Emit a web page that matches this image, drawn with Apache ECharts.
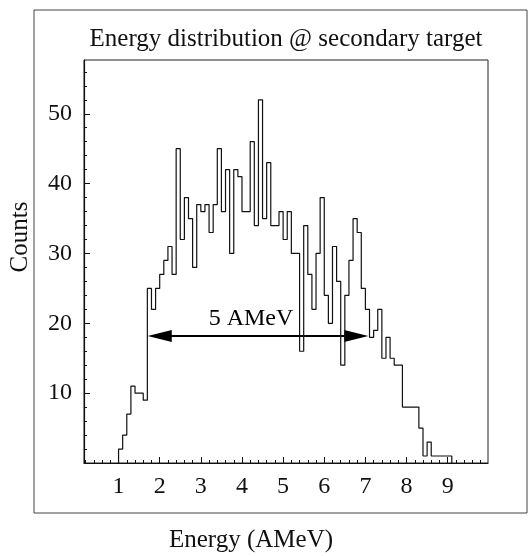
<!DOCTYPE html>
<html>
<head>
<meta charset="utf-8">
<script src="https://cdn.jsdelivr.net/npm/echarts@6/dist/echarts.min.js"></script>
<style>
  html, body { margin: 0; padding: 0; background: #fff; }
  #chart { width: 530px; height: 556px; }
</style>
</head>
<body>
<div id="chart"></div>
<script>
// Energy histogram at the secondary target, 0.1 AMeV bins starting at 1.0 AMeV
const binStart = 1.0;
const binWidth = 0.1;
const counts = [
  2, 4, 7, 11, 10, 10, 9, 25, 22, 25,
  27, 29, 31, 27, 45, 32, 38, 35, 28, 37,
  36, 37, 33, 37, 45, 36, 42, 30, 42, 41,
  36, 36, 46, 34, 52, 35, 43, 34, 34, 36,
  32, 36, 30, 30, 16, 34, 27, 22, 30, 38,
  24, 20, 31, 26, 14, 24, 29, 35, 33, 25,
  22, 18, 19, 22, 15, 18, 15, 14, 14, 8,
  8, 8, 8, 5, 1, 3, 1, 1, 1, 1,
  1
];

// Axis ticks and labels
const xTickLabels = [1, 2, 3, 4, 5, 6, 7, 8, 9];
const yTickValues = [0, 10, 20, 30, 40, 50];
const yTickLabels = [10, 20, 30, 40, 50];
const xRange = [0.16, 9.98];
const yRange = [0, 57.7];

// FWHM marker: arrow span in AMeV and its height in counts
const widthFrom = 1.71;
const widthTo = 7.07;
const widthLevel = 18.2;
const widthText = '5 AMeV';

const serif = 'Liberation Serif';

// minor tick positions (0.2 AMeV and 2 counts)
const xMinor = [];
for (let v = 0.2; v < xRange[1]; v += 0.2) xMinor.push(+v.toFixed(2));
const yMinor = [];
for (let v = 2; v < yRange[1]; v += 2) if (v % 10 !== 0) yMinor.push(v);

// step outline of the histogram: left edge of each bin, closed at both ends
const steps = [[binStart, 0]];
counts.forEach((c, i) => steps.push([+(binStart + i * binWidth).toFixed(2), c]));
steps.push([+(binStart + counts.length * binWidth).toFixed(2), 0]);

const chart = echarts.init(document.getElementById('chart'), null, { renderer: 'canvas' });

chart.setOption({
  animation: false,
  backgroundColor: '#fff',
  grid: {
    left: 84, top: 60, width: 404, height: 403,
    show: true, borderColor: '#222', borderWidth: 1, backgroundColor: 'transparent'
  },
  xAxis: [
    {
      type: 'value', min: xRange[0], max: xRange[1], position: 'bottom',
      axisLine: { show: true, onZero: false, lineStyle: { color: '#111', width: 1.2 } },
      axisTick: { show: true, inside: true, length: 6, customValues: xTickLabels, lineStyle: { color: '#111' } },
      axisLabel: { customValues: xTickLabels, color: '#111', fontFamily: serif, fontSize: 24, margin: 12 },
      splitLine: { show: false }
    },
    {
      type: 'value', min: xRange[0], max: xRange[1], position: 'bottom',
      axisLine: { show: false },
      axisTick: { show: true, inside: true, length: 3, customValues: xMinor, lineStyle: { color: '#111' } },
      axisLabel: { show: false },
      splitLine: { show: false }
    }
  ],
  yAxis: [
    {
      type: 'value', min: yRange[0], max: yRange[1], position: 'left',
      axisLine: { show: true, onZero: false, lineStyle: { color: '#111', width: 1.2 } },
      axisTick: { show: true, inside: true, length: 6, customValues: yTickValues, lineStyle: { color: '#111' } },
      axisLabel: { customValues: yTickLabels, color: '#111', fontFamily: serif, fontSize: 24, margin: 12 },
      splitLine: { show: false }
    },
    {
      type: 'value', min: yRange[0], max: yRange[1], position: 'left',
      axisLine: { show: false },
      axisTick: { show: true, inside: true, length: 3, customValues: yMinor, lineStyle: { color: '#111' } },
      axisLabel: { show: false },
      splitLine: { show: false }
    }
  ],
  series: [
    {
      type: 'line',
      xAxisIndex: 0, yAxisIndex: 0,
      step: 'end',
      data: steps,
      showSymbol: false,
      lineStyle: { color: '#111', width: 1.2 },
      silent: true
    },
    {
      type: 'custom',
      xAxisIndex: 0, yAxisIndex: 0,
      data: [[widthFrom, widthTo, widthLevel]],
      silent: true,
      renderItem: function (params, api) {
        const a = api.coord([api.value(0), api.value(2)]);
        const b = api.coord([api.value(1), api.value(2)]);
        const headLen = 24, headHalf = 6;
        return {
          type: 'group',
          children: [
            { type: 'line', shape: { x1: a[0] + headLen - 2, y1: a[1], x2: b[0] - headLen + 2, y2: b[1] },
              style: { stroke: '#000', lineWidth: 2 } },
            { type: 'polygon', shape: { points: [[a[0], a[1]], [a[0] + headLen, a[1] - headHalf], [a[0] + headLen, a[1] + headHalf]] },
              style: { fill: '#000' } },
            { type: 'polygon', shape: { points: [[b[0], b[1]], [b[0] - headLen, b[1] - headHalf], [b[0] - headLen, b[1] + headHalf]] },
              style: { fill: '#000' } },
            { type: 'text', style: { text: widthText, x: (a[0] + b[0]) / 2 - 7, y: a[1] - 17,
                align: 'center', verticalAlign: 'middle', fill: '#000', font: '24px "Liberation Serif"' } }
          ]
        };
      }
    }
  ],
  graphic: [
    { type: 'rect', shape: { x: 34, y: 10, width: 493, height: 503 }, style: { fill: 'none', stroke: '#444', lineWidth: 1 }, silent: true },
    { type: 'text', x: 286, y: 39, style: { text: 'Energy distribution @ secondary target', align: 'center', verticalAlign: 'middle', fill: '#111', font: '25px "Liberation Serif"' } },
    { type: 'text', x: 20, y: 237, rotation: Math.PI / 2, style: { text: 'Counts', align: 'center', verticalAlign: 'middle', fill: '#111', font: '25px "Liberation Serif"' } },
    { type: 'text', x: 251, y: 540, style: { text: 'Energy (AMeV)', align: 'center', verticalAlign: 'middle', fill: '#111', font: '25px "Liberation Serif"' } }
  ]
});
</script>
</body>
</html>
